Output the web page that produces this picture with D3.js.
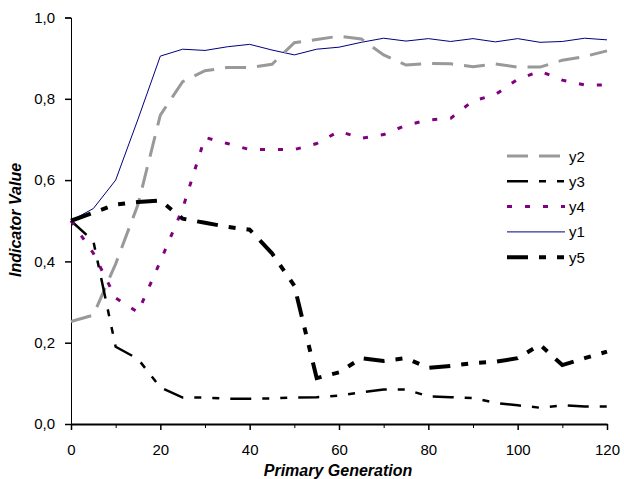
<!DOCTYPE html>
<html>
<head>
<meta charset="utf-8">
<script src="https://cdn.jsdelivr.net/npm/d3@7"></script>
<style>
  html, body { margin: 0; padding: 0; background: #fff; }
  svg { display: block; }
  text { font-family: "Liberation Sans", Arial, sans-serif; }
</style>
</head>
<body>
<svg id="chart" width="624" height="479"></svg>
<script>
const generations = [0,5,10,15,20,25,30,35,40,45,50,55,60,65,70,75,80,85,90,95,100,105,110,115,120];
const y1 = [0.50,0.53,0.60,0.75,0.905,0.922,0.919,0.928,0.934,0.92,0.908,0.922,0.927,0.939,0.949,0.942,0.948,0.941,0.948,0.94,0.948,0.939,0.941,0.949,0.945];
const y2 = [0.252,0.268,0.394,0.54,0.76,0.842,0.869,0.877,0.877,0.885,0.938,0.946,0.954,0.947,0.908,0.883,0.887,0.886,0.879,0.886,0.878,0.878,0.895,0.904,0.918];
const y3 = [0.50,0.45,0.19,0.16,0.09,0.065,0.065,0.062,0.062,0.063,0.065,0.066,0.07,0.078,0.085,0.085,0.068,0.066,0.064,0.052,0.046,0.04,0.046,0.043,0.043];
const y4 = [0.50,0.42,0.31,0.275,0.40,0.53,0.705,0.69,0.675,0.675,0.675,0.69,0.72,0.703,0.712,0.735,0.748,0.752,0.795,0.81,0.848,0.868,0.846,0.834,0.834];
const y5 = [0.50,0.52,0.54,0.546,0.55,0.505,0.495,0.485,0.478,0.42,0.34,0.113,0.127,0.162,0.155,0.162,0.138,0.143,0.15,0.153,0.162,0.195,0.145,0.162,0.178];
const yTicks = [0,0.2,0.4,0.6,0.8,1.0];
const xTicks = [0,20,40,60,80,100,120];
const xMinorTicks = [10,30,50,70,90,110];
const legendOrder = ["y2","y3","y4","y1","y5"];

const seriesStyles = {
  y1: {data: y1, color: "#000080", width: 1, dash: null},
  y2: {data: y2, color: "#999999", width: 3, dash: "21,11"},
  y3: {data: y3, color: "#000000", width: 2.5, dash: "21,11,7,11,7,11"},
  y4: {data: y4, color: "#800080", width: 3, dash: "5,13"},
  y5: {data: y5, color: "#000000", width: 4, dash: "21,11,7,11,7,11"}
};

const svg = d3.select("#chart");
const x = d3.scaleLinear().domain([0,120]).range([71,607]);
const y = d3.scaleLinear().domain([0,1]).range([424,17.5]);
const fmt = d => d3.format(".1f")(d).replace(".", ",");

// y axis
const yAxis = svg.append("g").attr("transform", `translate(${x(0)},0)`)
  .call(d3.axisLeft(y).tickValues(yTicks).tickFormat(fmt).tickSize(6).tickPadding(10));
yAxis.select(".domain").attr("stroke", "#000").attr("stroke-width", 1);
yAxis.selectAll(".tick line").attr("stroke", "#000").attr("stroke-width", 1.5);
yAxis.selectAll("text").attr("font-size", 15).attr("fill", "#000")
  .attr("font-family", "Liberation Sans, Arial, sans-serif");

// x axis minor ticks
svg.append("g").attr("transform", `translate(0,${y(0)})`)
  .call(d3.axisBottom(x).tickValues(xMinorTicks).tickSize(4).tickFormat(""))
  .call(g => g.select(".domain").remove())
  .selectAll(".tick line").attr("stroke", "#000").attr("stroke-width", 1);

// x axis
const xAxis = svg.append("g").attr("transform", `translate(0,${y(0)})`)
  .call(d3.axisBottom(x).tickValues(xTicks).tickFormat(d3.format("d")).tickSize(6).tickSizeOuter(0).tickPadding(14));
xAxis.select(".domain").attr("stroke", "#000").attr("stroke-width", 2);
xAxis.selectAll(".tick line").attr("stroke", "#000").attr("stroke-width", 1.5);
xAxis.selectAll("text").attr("font-size", 15).attr("fill", "#000")
  .attr("font-family", "Liberation Sans, Arial, sans-serif");

// lines
const line = d3.line().x((d,i) => x(generations[i])).y(d => y(d));
["y1","y2","y3","y4","y5"].forEach(k => {
  const s = seriesStyles[k];
  svg.append("path").datum(s.data)
    .attr("d", line)
    .attr("fill", "none")
    .attr("stroke", s.color)
    .attr("stroke-width", s.width)
    .attr("stroke-dasharray", s.dash)
    .attr("stroke-linejoin", "miter");
});

// legend
const lg = svg.append("g").attr("transform", "translate(507,156)");
legendOrder.forEach((k,i) => {
  const s = seriesStyles[k];
  const row = lg.append("g").attr("transform", `translate(0,${i*25.3})`);
  row.append("line").attr("x1", 0).attr("x2", 58).attr("y1", 0).attr("y2", 0)
    .attr("stroke", s.color).attr("stroke-width", s.width).attr("stroke-dasharray", s.dash);
  row.append("text").attr("x", 62).attr("y", 5.5).attr("font-size", 15).attr("fill", "#000").text(k);
});

// axis titles
svg.append("text").attr("x", 338).attr("y", 476)
  .attr("text-anchor", "middle").attr("font-size", 16)
  .attr("font-weight", "bold").attr("font-style", "italic").text("Primary Generation");
svg.append("text").attr("transform", "translate(21,220) rotate(-90)")
  .attr("text-anchor", "middle").attr("font-size", 16)
  .attr("font-weight", "bold").attr("font-style", "italic").text("Indicator Value");
</script>
</body>
</html>
